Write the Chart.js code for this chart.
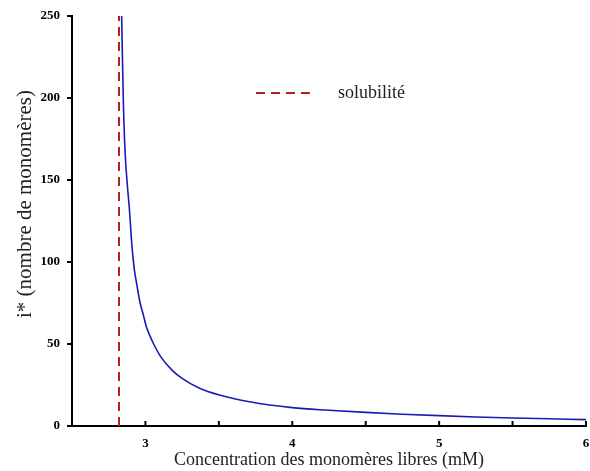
<!DOCTYPE html>
<html>
<head>
<meta charset="utf-8">
<script src="https://cdn.jsdelivr.net/npm/chart.js@4.4.1/dist/chart.umd.min.js"></script>
<style>
  html, body { margin: 0; padding: 0; background: #fff; }
  #wrap { width: 590px; height: 471px; }
</style>
</head>
<body>
<div id="wrap"><canvas id="chart"></canvas></div>
<script>
// concentration (mM) vs critical size i*
const concentration = [2.838, 2.849, 2.861, 2.874, 2.891, 2.908, 2.925, 2.936, 2.964, 2.985, 3.008, 3.033,
  3.056, 3.106, 3.181, 3.25, 3.368, 3.504, 3.709, 4.0, 4.25, 4.5, 4.75, 5.0, 5.25, 5.5, 5.75, 6.0];
const iStar = [250, 200, 168, 150, 132, 110, 95, 89, 75, 68, 60, 54.5,
  50, 42, 34.1, 29, 23, 18.9, 14.8, 11.2, 9.6, 8.3, 7.2, 6.3, 5.5, 4.9, 4.4, 3.9];
const solubility = 2.82;
const yTicks = [0, 50, 100, 150, 200, 250];
const legendLabel = 'solubilité';
const yTitle = 'i* (nombre de monomères)';

const serif = '"Liberation Serif", "Times New Roman", serif';
const curveColor = '#1a1ab4';
const dashColor = '#b22222';

const ctx = document.getElementById('chart').getContext('2d');

// x ticks point up into the plot, legend entry inside the plot, y title a bit above centre
const extras = {
  id: 'extras',
  afterDraw(chart) {
    const c = chart.ctx;
    const x = chart.scales.x;
    const area = chart.chartArea;
    c.save();
    c.strokeStyle = '#000';
    c.lineWidth = 2;
    x.ticks.forEach(t => {
      const px = x.getPixelForValue(t.value);
      c.beginPath();
      c.moveTo(px, area.bottom);
      c.lineTo(px, area.bottom - 5);
      c.stroke();
    });
    // legend
    c.strokeStyle = dashColor;
    c.lineWidth = 2;
    c.setLineDash([9, 6]);
    c.beginPath();
    c.moveTo(256, 93);
    c.lineTo(316, 93);
    c.stroke();
    c.setLineDash([]);
    c.fillStyle = '#222';
    c.font = '18px ' + serif;
    c.textBaseline = 'middle';
    c.fillText(legendLabel, 338, 93);
    // y title
    c.translate(25, 204);
    c.rotate(-Math.PI / 2);
    c.font = '21px ' + serif;
    c.textAlign = 'center';
    c.fillText(yTitle, 0, 0);
    c.restore();
  }
};

new Chart(ctx, {
  type: 'scatter',
  data: {
    datasets: [
      {
        label: 'i*',
        data: concentration.map((c, i) => ({ x: c, y: iStar[i] })),
        showLine: true,
        borderColor: curveColor,
        borderWidth: 1.6,
        pointRadius: 0,
        cubicInterpolationMode: 'monotone'
      },
      {
        label: legendLabel,
        data: [{ x: solubility, y: 0 }, { x: solubility, y: 250 }],
        showLine: true,
        borderColor: dashColor,
        borderWidth: 2,
        borderDash: [9, 6],
        pointRadius: 0
      }
    ]
  },
  options: {
    responsive: true,
    maintainAspectRatio: false,
    animation: false,
    layout: { padding: { top: 16, right: 4, left: 0, bottom: 0 } },
    plugins: {
      legend: { display: false },
      tooltip: { enabled: false }
    },
    scales: {
      x: {
        type: 'linear',
        min: 2.5,
        max: 6,
        afterFit: s => { s.height = 45; s.paddingRight = 0; s.paddingLeft = 0; },
        border: { display: true, color: '#000', width: 2 },
        grid: { display: false },
        ticks: {
          stepSize: 0.5,
          autoSkip: false,
          maxRotation: 0,
          padding: 2,
          color: '#000',
          font: { family: serif, size: 13, weight: 'bold' },
          callback: v => Number.isInteger(v) && v > 2.5 ? String(v) : ''
        },
        title: {
          display: true,
          text: 'Concentration des monomères libres (mM)',
          color: '#222',
          font: { family: serif, size: 18 },
          padding: { top: 0, bottom: 0 }
        }
      },
      y: {
        type: 'linear',
        min: 0,
        max: 250,
        afterFit: s => { s.width = 72; },
        afterBuildTicks: s => { s.ticks = yTicks.map(v => ({ value: v })); },
        border: { display: true, color: '#000', width: 2 },
        grid: { drawOnChartArea: false, drawTicks: true, tickLength: 5, color: '#000', lineWidth: 2 },
        ticks: {
          padding: 7,
          color: '#000',
          font: { family: serif, size: 13, weight: 'bold' }
        },
        title: { display: false }
      }
    }
  },
  plugins: [extras]
});
</script>
</body>
</html>
